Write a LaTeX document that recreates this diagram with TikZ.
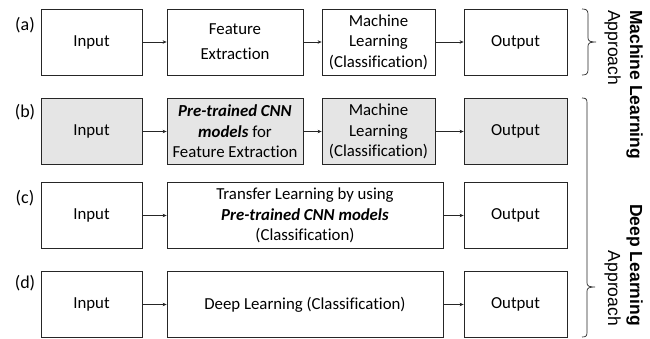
\documentclass[tikz,border=0pt]{standalone}
\usepackage{fontspec}
\setmainfont[Ligatures=NoCommon]{Carlito}
\newfontfamily\arialfont{Liberation Sans}
\usetikzlibrary{arrows.meta}
\begin{document}
\begin{tikzpicture}[x=1pt,y=-1pt,
  box/.style={draw=black!85,line width=0.8pt,inner sep=0pt,minimum height=66pt,align=center,
    font=\fontsize{16.8}{20.5}\selectfont},
  grayfill/.style={fill=black!10},
  arr/.style={-{Stealth[length=4pt,width=3.5pt]},line width=0.6pt,draw=black!85},
  lbl/.style={font=\fontsize{18}{20}\selectfont,inner sep=0pt},
  side/.style={font=\arialfont\fontsize{17.5}{22}\selectfont,inner sep=0pt,rotate=-90},
  brc/.style={line width=0.7pt,draw=black!85}]
\useasboundingbox (0,0) rectangle (650,338);
% row a
\node[lbl] (la) at (25,25) {(a)};
\node[box,minimum width=101pt] (ia) at (91.5,42) {Input};
\node[box,minimum width=136pt] (fa) at (235,42) {Feature\\[4.5pt]Extraction};
\node[box,minimum width=113pt] (ma) at (378.5,42) {Machine\\Learning\\(Classification)};
\node[box,minimum width=103pt] (oa) at (515.5,42) {Output};
\draw[arr] (ia) -- (fa);
\draw[arr] (fa) -- (ma);
\draw[arr] (ma) -- (oa);
% row b
\node[lbl] (lb) at (25,112) {(b)};
\node[box,grayfill,minimum width=101pt] (ib) at (91.5,131.5) {Input};
\node[box,grayfill,minimum width=136pt] (fb) at (235,131.5) {\textbf{\textit{Pre-trained CNN}}\\\textbf{\textit{models}} for\\Feature Extraction};
\node[box,grayfill,minimum width=113pt] (mb) at (378.5,131.5) {Machine\\Learning\\(Classification)};
\node[box,grayfill,minimum width=103pt] (ob) at (515.5,131.5) {Output};
\draw[arr] (ib) -- (fb);
\draw[arr] (fb) -- (mb);
\draw[arr] (mb) -- (ob);
% row c
\node[lbl] (lc) at (25,198) {(c)};
\node[box,minimum width=101pt] (ic) at (91.5,215.5) {Input};
\node[box,minimum width=276pt] (tc) at (305,215.5) {Transfer Learning by using\\\textbf{\textit{Pre-trained CNN models}}\\(Classification)};
\node[box,minimum width=103pt] (oc) at (515.5,215.5) {Output};
\draw[arr] (ic) -- (tc);
\draw[arr] (tc) -- (oc);
% row d
\node[lbl] (ld) at (25,283) {(d)};
\node[box,minimum width=101pt] (id) at (91.5,304.5) {Input};
\node[box,minimum width=276pt] (dd) at (305,304.5) {Deep Learning (Classification)};
\node[box,minimum width=103pt] (od) at (515.5,304.5) {Output};
\draw[arr] (id) -- (dd);
\draw[arr] (dd) -- (od);
% braces
\draw[brc] (582,9) .. controls (586,9) and (588,10) .. (588,14) -- (588,38)
  .. controls (588,41) and (590,42) .. (596,42)
  .. controls (590,42) and (588,43) .. (588,46) -- (588,70)
  .. controls (588,74) and (586,75) .. (582,75);
\draw[brc] (582,98) .. controls (586,98) and (587,99) .. (587,103) -- (587,283)
  .. controls (587,286) and (589,287) .. (595,287)
  .. controls (589,287) and (587,288) .. (587,291) -- (587,332)
  .. controls (587,336) and (586,337) .. (582,337);
% side labels
\node[side,anchor=north west,align=left] (mlt) at (643,10) {\textbf{Machine Learning}\\Approach};
\node[side,anchor=north east,align=right] (dlt) at (643,326) {\textbf{Deep Learning}\\Approach};
\end{tikzpicture}
\end{document}
